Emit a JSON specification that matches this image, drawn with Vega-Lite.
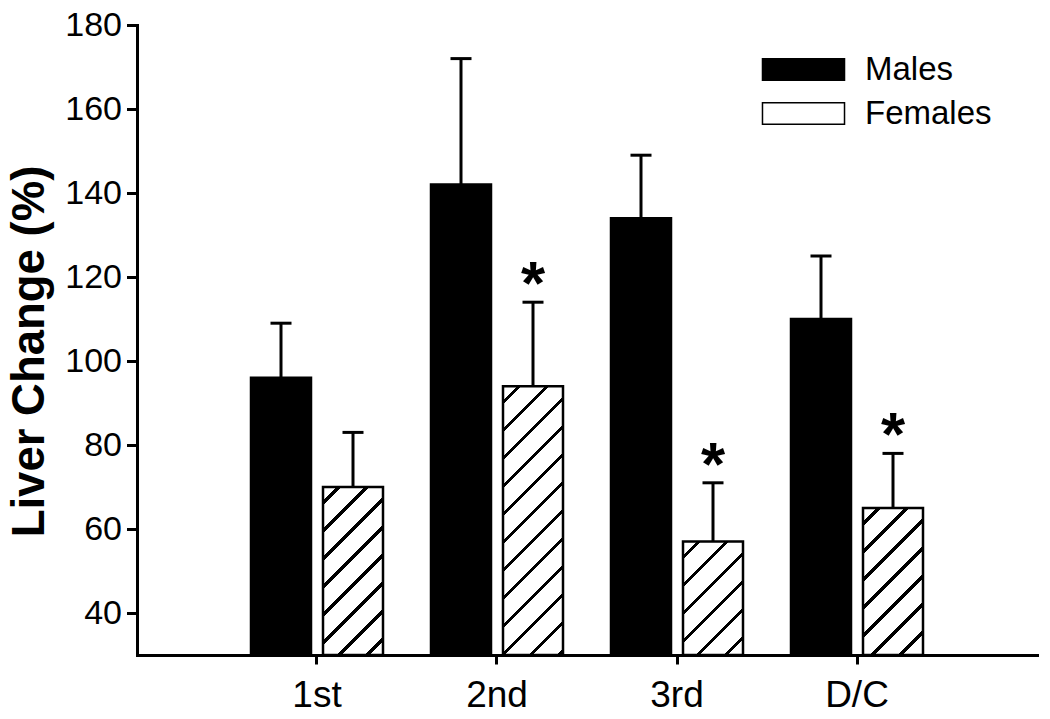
{
  "$schema": "https://vega.github.io/schema/vega-lite/v6.json",
  "autosize": {"type": "none"},
  "padding": {"left": 137, "top": 25, "right": 13, "bottom": 64},
  "width": 900,
  "height": 630,
  "background": "white",
  "config": {
    "font": "Liberation Sans",
    "view": {"stroke": null},
    "axis": {"grid": false, "domainColor": "black", "domainWidth": 3, "domainCap": "square", "tickColor": "black", "tickWidth": 3, "labelColor": "black", "titleColor": "black", "labelFont": "Liberation Sans", "titleFont": "Liberation Sans"},
    "legend": {"labelFont": "Liberation Sans", "labelColor": "black"}
  },
  "data": {
    "values": [
      {"period": "1st", "sex": "Males", "value": 96, "upper": 109, "sig": ""},
      {"period": "1st", "sex": "Females", "value": 70, "upper": 83, "sig": ""},
      {"period": "2nd", "sex": "Males", "value": 142, "upper": 172, "sig": ""},
      {"period": "2nd", "sex": "Females", "value": 94, "upper": 114, "sig": "*"},
      {"period": "3rd", "sex": "Males", "value": 134, "upper": 149, "sig": ""},
      {"period": "3rd", "sex": "Females", "value": 57, "upper": 71, "sig": "*"},
      {"period": "D/C", "sex": "Males", "value": 110, "upper": 125, "sig": ""},
      {"period": "D/C", "sex": "Females", "value": 65, "upper": 78, "sig": "*"}
    ]
  },
  "encoding": {
    "x": {
      "field": "period", "type": "nominal", "sort": ["1st", "2nd", "3rd", "D/C"],
      "scale": {"paddingInner": 0.2666667, "paddingOuter": 0.6333333},
      "axis": {"title": null, "labelAngle": 0, "labelFontSize": 37, "tickSize": 9, "labelPadding": 13}
    },
    "xOffset": {
      "field": "sex", "type": "nominal",
      "scale": {"domain": ["Males", "Females"], "paddingInner": 0.1666667, "paddingOuter": 0}
    }
  },
  "layer": [
    {
      "mark": {"type": "bar", "stroke": "black", "strokeWidth": 2.5},
      "encoding": {
        "y": {
          "field": "value", "type": "quantitative",
          "scale": {"domain": [30, 180], "nice": false, "zero": false},
          "axis": {
            "title": "Liver Change (%)", "titleFontSize": 45.5, "titleFontWeight": "bold", "titlePadding": 11.5, "titleY": 326,
            "values": [40, 60, 80, 100, 120, 140, 160, 180],
            "labelFontSize": 34, "labelPadding": 5, "tickSize": 10.5
          }
        },
        "y2": {"datum": 30},
        "fill": {
          "field": "sex", "type": "nominal",
          "scale": {"domain": ["Males", "Females"], "range": ["black", "white"]},
          "condition": [
            {"test": "datum.sex === 'Females' && datum.period === '1st'", "value": {"gradient": "linear", "x1": 0, "y1": 0, "x2": 0.42987, "y2": 1.20362, "stops": [
              {"offset": 0, "color": "white"},
              {"offset": 0.0610, "color": "white"}, {"offset": 0.0610, "color": "black"}, {"offset": 0.0794, "color": "black"}, {"offset": 0.0794, "color": "white"},
              {"offset": 0.1838, "color": "white"}, {"offset": 0.1838, "color": "black"}, {"offset": 0.2022, "color": "black"}, {"offset": 0.2022, "color": "white"},
              {"offset": 0.3066, "color": "white"}, {"offset": 0.3066, "color": "black"}, {"offset": 0.3250, "color": "black"}, {"offset": 0.3250, "color": "white"},
              {"offset": 0.4294, "color": "white"}, {"offset": 0.4294, "color": "black"}, {"offset": 0.4478, "color": "black"}, {"offset": 0.4478, "color": "white"},
              {"offset": 0.5522, "color": "white"}, {"offset": 0.5522, "color": "black"}, {"offset": 0.5706, "color": "black"}, {"offset": 0.5706, "color": "white"},
              {"offset": 0.6750, "color": "white"}, {"offset": 0.6750, "color": "black"}, {"offset": 0.6934, "color": "black"}, {"offset": 0.6934, "color": "white"},
              {"offset": 0.7978, "color": "white"}, {"offset": 0.7978, "color": "black"}, {"offset": 0.8162, "color": "black"}, {"offset": 0.8162, "color": "white"},
              {"offset": 0.9206, "color": "white"}, {"offset": 0.9206, "color": "black"}, {"offset": 0.9390, "color": "black"}, {"offset": 0.9390, "color": "white"},
              {"offset": 1, "color": "white"}
            ]}},
            {"test": "datum.sex === 'Females' && datum.period === '2nd'", "value": {"gradient": "linear", "x1": 0, "y1": 0, "x2": 0.26008, "y2": 1.16516, "stops": [
              {"offset": 0, "color": "white"},
              {"offset": 0.04228, "color": "white"}, {"offset": 0.04228, "color": "black"}, {"offset": 0.05505, "color": "black"}, {"offset": 0.05505, "color": "white"},
              {"offset": 0.12743, "color": "white"}, {"offset": 0.12743, "color": "black"}, {"offset": 0.14021, "color": "black"}, {"offset": 0.14021, "color": "white"},
              {"offset": 0.21259, "color": "white"}, {"offset": 0.21259, "color": "black"}, {"offset": 0.22536, "color": "black"}, {"offset": 0.22536, "color": "white"},
              {"offset": 0.29775, "color": "white"}, {"offset": 0.29775, "color": "black"}, {"offset": 0.31052, "color": "black"}, {"offset": 0.31052, "color": "white"},
              {"offset": 0.38291, "color": "white"}, {"offset": 0.38291, "color": "black"}, {"offset": 0.39568, "color": "black"}, {"offset": 0.39568, "color": "white"},
              {"offset": 0.46807, "color": "white"}, {"offset": 0.46807, "color": "black"}, {"offset": 0.48084, "color": "black"}, {"offset": 0.48084, "color": "white"},
              {"offset": 0.55323, "color": "white"}, {"offset": 0.55323, "color": "black"}, {"offset": 0.56600, "color": "black"}, {"offset": 0.56600, "color": "white"},
              {"offset": 0.63838, "color": "white"}, {"offset": 0.63838, "color": "black"}, {"offset": 0.65116, "color": "black"}, {"offset": 0.65116, "color": "white"},
              {"offset": 0.72354, "color": "white"}, {"offset": 0.72354, "color": "black"}, {"offset": 0.73631, "color": "black"}, {"offset": 0.73631, "color": "white"},
              {"offset": 0.80870, "color": "white"}, {"offset": 0.80870, "color": "black"}, {"offset": 0.82147, "color": "black"}, {"offset": 0.82147, "color": "white"},
              {"offset": 0.89386, "color": "white"}, {"offset": 0.89386, "color": "black"}, {"offset": 0.90663, "color": "black"}, {"offset": 0.90663, "color": "white"},
              {"offset": 0.97901, "color": "white"}, {"offset": 0.97901, "color": "black"}, {"offset": 0.99179, "color": "black"}, {"offset": 0.99179, "color": "white"},
              {"offset": 1, "color": "white"}
            ]}},
            {"test": "datum.sex === 'Females' && datum.period === '3rd'", "value": {"gradient": "linear", "x1": 0, "y1": 0, "x2": 0.63210, "y2": 1.19466, "stops": [
              {"offset": 0, "color": "white"},
              {"offset": 0.08016, "color": "white"}, {"offset": 0.08016, "color": "black"}, {"offset": 0.10438, "color": "black"}, {"offset": 0.10438, "color": "white"},
              {"offset": 0.24164, "color": "white"}, {"offset": 0.24164, "color": "black"}, {"offset": 0.26586, "color": "black"}, {"offset": 0.26586, "color": "white"},
              {"offset": 0.40311, "color": "white"}, {"offset": 0.40311, "color": "black"}, {"offset": 0.42734, "color": "black"}, {"offset": 0.42734, "color": "white"},
              {"offset": 0.56459, "color": "white"}, {"offset": 0.56459, "color": "black"}, {"offset": 0.58881, "color": "black"}, {"offset": 0.58881, "color": "white"},
              {"offset": 0.72607, "color": "white"}, {"offset": 0.72607, "color": "black"}, {"offset": 0.75029, "color": "black"}, {"offset": 0.75029, "color": "white"},
              {"offset": 0.88754, "color": "white"}, {"offset": 0.88754, "color": "black"}, {"offset": 0.91176, "color": "black"}, {"offset": 0.91176, "color": "white"},
              {"offset": 1, "color": "white"}
            ]}},
            {"test": "datum.sex === 'Females' && datum.period === 'D/C'", "value": {"gradient": "linear", "x1": 0, "y1": 0, "x2": 0.49268, "y2": 1.20707, "stops": [
              {"offset": 0, "color": "white"},
              {"offset": 0.06715, "color": "white"}, {"offset": 0.06715, "color": "black"}, {"offset": 0.08744, "color": "black"}, {"offset": 0.08744, "color": "white"},
              {"offset": 0.20242, "color": "white"}, {"offset": 0.20242, "color": "black"}, {"offset": 0.22271, "color": "black"}, {"offset": 0.22271, "color": "white"},
              {"offset": 0.33768, "color": "white"}, {"offset": 0.33768, "color": "black"}, {"offset": 0.35797, "color": "black"}, {"offset": 0.35797, "color": "white"},
              {"offset": 0.47295, "color": "white"}, {"offset": 0.47295, "color": "black"}, {"offset": 0.49324, "color": "black"}, {"offset": 0.49324, "color": "white"},
              {"offset": 0.60821, "color": "white"}, {"offset": 0.60821, "color": "black"}, {"offset": 0.62850, "color": "black"}, {"offset": 0.62850, "color": "white"},
              {"offset": 0.74348, "color": "white"}, {"offset": 0.74348, "color": "black"}, {"offset": 0.76377, "color": "black"}, {"offset": 0.76377, "color": "white"},
              {"offset": 0.87874, "color": "white"}, {"offset": 0.87874, "color": "black"}, {"offset": 0.89903, "color": "black"}, {"offset": 0.89903, "color": "white"},
              {"offset": 1, "color": "white"}
            ]}}
          ],
          "legend": {
            "orient": "none", "legendX": 650, "legendY": 28, "title": null, "padding": 0,
            "symbolType": "M-3.78,-1L3.78,-1L3.78,1L-3.78,1Z", "symbolSize": 471,
            "labelFontSize": 33, "labelOffset": 45, "rowPadding": 10,
            "encode": {
              "symbols": {
                "update": {
                  "stroke": {"value": "black"},
                  "strokeWidth": {"value": 2.5},
                  "fill": [
                    {"test": "datum.value === 'Females'", "value": {"gradient": "linear", "x1": 0, "y1": 0, "x2": 1.13029, "y2": 0.17947, "stops": [
                      {"offset": 0, "color": "white"},
                      {"offset": 0.22364, "color": "white"}, {"offset": 0.22364, "color": "black"}, {"offset": 0.25416, "color": "black"}, {"offset": 0.25416, "color": "white"},
                      {"offset": 0.50358, "color": "white"}, {"offset": 0.50358, "color": "black"}, {"offset": 0.53410, "color": "black"}, {"offset": 0.53410, "color": "white"},
                      {"offset": 0.78457, "color": "white"}, {"offset": 0.78457, "color": "black"}, {"offset": 0.81509, "color": "black"}, {"offset": 0.81509, "color": "white"},
                      {"offset": 1, "color": "white"}
                    ]}},
                    {"value": "black"}
                  ]
                }
              }
            }
          }
        }
      }
    },
    {
      "mark": {"type": "rule", "color": "black", "strokeWidth": 3},
      "encoding": {
        "y": {"field": "value", "type": "quantitative"},
        "y2": {"field": "upper"}
      }
    },
    {
      "mark": {"type": "tick", "color": "black", "size": 21, "thickness": 3, "opacity": 1},
      "encoding": {
        "y": {"field": "upper", "type": "quantitative"}
      }
    },
    {
      "transform": [{"filter": "datum.sig !== ''"}],
      "mark": {"type": "text", "fontSize": 62, "fontWeight": "bold", "color": "black", "align": "center", "baseline": "alphabetic", "dy": 2},
      "encoding": {
        "y": {"field": "upper", "type": "quantitative"},
        "text": {"field": "sig"}
      }
    }
  ]
}
